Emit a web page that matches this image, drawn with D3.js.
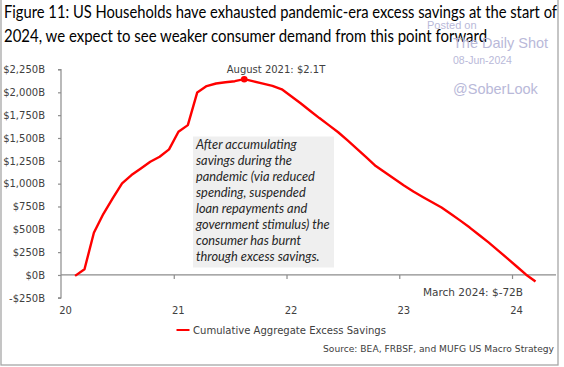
<!DOCTYPE html>
<html><head><meta charset="utf-8">
<script src="https://cdn.jsdelivr.net/npm/d3@7"></script>
<style>
html,body{margin:0;padding:0;background:#fff;}
svg{display:block;}
</style></head>
<body>
<svg id="chart" width="564" height="367"></svg>
<script>
const titleLines = [
  "Figure 11: US Households have exhausted pandemic-era excess savings at the start of",
  "2024, we expect to see weaker consumer demand from this point forward"
];
const months = [
  "2020-02","2020-03","2020-04","2020-05","2020-06","2020-07","2020-08","2020-09","2020-10","2020-11","2020-12",
  "2021-01","2021-02","2021-03","2021-04","2021-05","2021-06","2021-07","2021-08","2021-09","2021-10","2021-11","2021-12",
  "2022-01","2022-02","2022-03","2022-04","2022-05","2022-06","2022-07","2022-08","2022-09","2022-10","2022-11","2022-12",
  "2023-01","2023-02","2023-03","2023-04","2023-05","2023-06","2023-07","2023-08","2023-09","2023-10","2023-11","2023-12",
  "2024-01","2024-02","2024-03"
];
const savings = [
  -10, 62, 463, 667, 839, 1003, 1094, 1167, 1240, 1295, 1375,
  1568, 1641, 1999, 2068, 2097, 2111, 2122, 2144, 2120, 2096, 2071, 2033,
  1957, 1880, 1799, 1718, 1641, 1563, 1474, 1381, 1287, 1193, 1121, 1052,
  980, 914, 854, 796, 738, 668, 595, 519, 438, 357, 270, 182,
  93, 3, -72
];
const xTickValues = [2020, 2021, 2022, 2023, 2024];
const xTickLabels = ["20", "21", "22", "23", "24"];
const yTickValues = [-250, 0, 250, 500, 750, 1000, 1250, 1500, 1750, 2000, 2250];
const seriesName = "Cumulative Aggregate Excess Savings";
const peakLabel = "August 2021: $2.1T";
const endLabel = "March 2024: $-72B";
const boxLines = [
  "After accumulating",
  "savings during the",
  "pandemic (via reduced",
  "spending, suspended",
  "loan repayments and",
  "government stimulus) the",
  "consumer has burnt",
  "through excess savings."
];
const sourceText = "Source: BEA, FRBSF, and MUFG US Macro Strategy";
const watermark = ["Posted on", "The Daily Shot", "08-Jun-2024", "@SoberLook"];

const svg = d3.select("#chart");
const W = 564, H = 367;
svg.append("rect").attr("x",0).attr("y",0).attr("width",W).attr("height",H).attr("fill","#fff");
// frame
svg.append("rect").attr("x",1).attr("y",-3).attr("width",557).attr("height",368)
  .attr("fill","none").attr("stroke","#a6a6a6").attr("stroke-width",1.3);

// title
const titleFont = "Lato, 'Open Sans', sans-serif";
svg.append("text").attr("x",4).attr("y",18).attr("font-family",titleFont).attr("font-size",17.5)
  .attr("fill","#000").attr("textLength",553).attr("lengthAdjust","spacingAndGlyphs").text(titleLines[0]);
svg.append("text").attr("x",4).attr("y",42).attr("font-family",titleFont).attr("font-size",17.5)
  .attr("fill","#000").attr("textLength",483).attr("lengthAdjust","spacingAndGlyphs").text(titleLines[1]);

// scales
const parse = s => { const [y,m] = s.split("-").map(Number); return y + (m - 0.5) / 12; };
const data = months.map((m,i) => ({t: parse(m), v: savings[i], label: m}));
const x = d3.scaleLinear().domain([2020, 2024.39]).range([61, 556]);
const y = d3.scaleLinear().domain([-250, 2250]).range([297.8, 69.5]);

const axisColor = "#8c8c8c";
const labelFont = "'DejaVu Sans', Verdana, sans-serif";

// y axis
const yAxis = d3.axisLeft(y).tickValues(yTickValues).tickSize(3).tickPadding(13)
  .tickFormat(d => (d < 0 ? "-$" : "$") + d3.format(",")(Math.abs(d)) + "B");
const gy = svg.append("g").attr("transform", `translate(${x(2020)},0)`).call(yAxis);
gy.select(".domain").attr("stroke", axisColor).attr("stroke-width",1.2).attr("d", `M-3,${y(2250)}H0V${y(-250)}H-3`);
gy.selectAll(".tick line").attr("stroke", axisColor).attr("stroke-width",1.2);
gy.selectAll(".tick text").attr("font-family", labelFont).attr("font-size", 10).attr("fill", "#404040");

// x axis at zero
const xAxis = d3.axisBottom(x).tickValues(xTickValues).tickSize(4).tickPadding(28)
  .tickFormat((d,i) => xTickLabels[i]);
const gx = svg.append("g").attr("transform", `translate(0,${y(0)})`).call(xAxis);
gx.select(".domain").attr("stroke", axisColor).attr("stroke-width",1.2).attr("d", `M${x(2020)},0H${x(2024.39)}`);
gx.selectAll(".tick line").attr("stroke", axisColor).attr("stroke-width",1.2);
gx.selectAll(".tick text").attr("font-family", labelFont).attr("font-size", 10).attr("fill", "#404040")
  .attr("dx", 4);
gx.selectAll(".tick").filter(d => d === 2020).select("line").remove();

// annotation box
const boxG = svg.append("g");
boxG.append("rect").attr("x",193).attr("y",136.5).attr("width",141).attr("height",131).attr("fill","#efefef");
boxLines.forEach((ln,i) => {
  boxG.append("text").attr("x",196).attr("y",148.7 + i*16.05)
    .attr("font-family","Lato, 'Open Sans', sans-serif").attr("font-style","italic").attr("font-size",12.8)
    .attr("fill","#262626").text(ln);
});

// line
const line = d3.line().x(d => x(d.t)).y(d => y(d.v));
svg.append("path").datum(data).attr("d", line).attr("fill","none").attr("stroke","#ff0000")
  .attr("stroke-width",2.4).attr("stroke-linejoin","round");

// peak marker
const peak = data.reduce((a,b) => b.v > a.v ? b : a);
svg.append("circle").attr("cx", x(peak.t)).attr("cy", y(peak.v)).attr("r", 3.3).attr("fill","#ff0000");
svg.append("text").attr("x", x(peak.t) - 17.5).attr("y", 72.5).attr("font-family", labelFont)
  .attr("font-size", 10).attr("fill","#404040").text(peakLabel);

// end label
svg.append("text").attr("x", 423).attr("y", 295.5).attr("font-family", labelFont)
  .attr("font-size", 10).attr("fill","#404040").attr("textLength",100).attr("lengthAdjust","spacingAndGlyphs").text(endLabel);

// legend
svg.append("line").attr("x1",176.5).attr("x2",189.5).attr("y1",330).attr("y2",330)
  .attr("stroke","#ff0000").attr("stroke-width",2);
svg.append("text").attr("x",193).attr("y",333.5).attr("font-family", labelFont).attr("font-size",9.8)
  .attr("fill","#404040").attr("textLength",193).attr("lengthAdjust","spacingAndGlyphs").text(seriesName);

// source
svg.append("text").attr("x",554).attr("y",351.5).attr("text-anchor","end").attr("font-family", labelFont)
  .attr("font-size",9.3).attr("fill","#404040").attr("textLength",231).attr("lengthAdjust","spacingAndGlyphs").text(sourceText);

// watermark
const wmColor = "#b9b9d9";
const wmFont = "'Liberation Sans', Arial, sans-serif";
svg.append("text").attr("x",427).attr("y",29).attr("font-family",wmFont).attr("font-size",11).attr("fill",wmColor).text(watermark[0]);
svg.append("text").attr("x",453).attr("y",48).attr("font-family",wmFont).attr("font-size",14.5).attr("fill",wmColor).text(watermark[1]);
svg.append("text").attr("x",453).attr("y",64).attr("font-family",wmFont).attr("font-size",10.5).attr("fill",wmColor).text(watermark[2]);
svg.append("text").attr("x",453).attr("y",94).attr("font-family",wmFont).attr("font-size",14.5).attr("fill",wmColor).text(watermark[3]);
</script>
</body></html>
